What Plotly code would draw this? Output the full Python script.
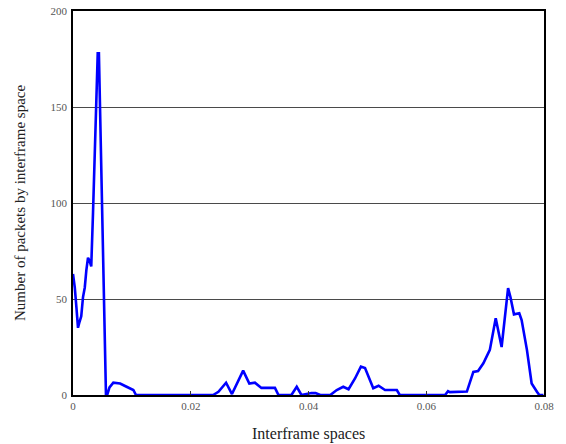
import plotly.graph_objects as go

# Interframe space histogram (bin position, packet count)
spacing = [
    0.0000, 0.0003, 0.00057, 0.00085, 0.0011, 0.0014, 0.0017, 0.0020, 0.00227,
    0.00255, 0.0028, 0.0031, 0.0034, 0.0037, 0.0040, 0.0042, 0.0044, 0.0046,
    0.0047, 0.0050, 0.0051, 0.0054, 0.0056, 0.0058, 0.0062, 0.00685, 0.0080,
    0.0091, 0.01025, 0.0107, 0.0238, 0.0247, 0.0260, 0.0270, 0.0289, 0.02995,
    0.0309, 0.0320, 0.0343, 0.0349, 0.0371, 0.0380, 0.0388, 0.0405, 0.0412,
    0.0420, 0.0437, 0.0448, 0.0459, 0.0468, 0.0479, 0.0489, 0.0496, 0.0510,
    0.0519, 0.0530, 0.0550, 0.0555, 0.0632, 0.0637, 0.0640, 0.0669, 0.0680,
    0.0688, 0.0697, 0.0708, 0.0718, 0.0728, 0.0732, 0.0739, 0.0743, 0.0749,
    0.0758, 0.0762, 0.0771, 0.0779, 0.0788, 0.0792, 0.0799,
]
packets = [
    63, 56, 46, 35, 38, 41, 51, 56, 65,
    71.5, 70, 67, 95, 122, 150, 178, 178, 150,
    142, 100, 71, 35, 0, 0, 4, 6.4, 6,
    4.3, 2.6, 0, 0, 1.7, 6.4, 0.5, 12.7, 6,
    6.4, 3.7, 3.7, 0, 0, 4.3, 0, 1, 1,
    0, 0, 2.6, 4.3, 3, 8.6, 14.8, 14, 3.5,
    4.8, 2.6, 2.6, 0, 0, 2, 1.5, 1.8, 12,
    12.5, 16.5, 23.5, 40, 25, 37, 55.7, 51, 42,
    42.6, 39, 23.5, 6, 1.7, 0, 0,
]

x_ticks = [0, 0.02, 0.04, 0.06, 0.08]
x_tick_text = ["0", "0.02", "0.04", "0.06", "0.08"]
y_ticks = [0, 50, 100, 150, 200]

x_title = "Interframe spaces"
y_title = "Number of packets by interframe space"

serif = "Liberation Serif, Times New Roman, serif"

fig = go.Figure(
    go.Scatter(
        x=spacing,
        y=packets,
        mode="lines",
        line=dict(color="#0000ff", width=2.6),
        hoverinfo="x+y",
    )
)

fig.update_layout(
    width=566,
    height=444,
    margin=dict(l=73, r=22, t=11, b=49),
    paper_bgcolor="white",
    plot_bgcolor="white",
    showlegend=False,
    font=dict(family=serif, color="#555555", size=11),
    annotations=[
        dict(text=x_title, xref="paper", yref="paper", x=0.5, y=0,
             xanchor="center", yanchor="top", yshift=-28, showarrow=False,
             font=dict(family=serif, size=16, color="#222222")),
        dict(text=y_title, xref="paper", yref="paper", x=0, y=0.5,
             xanchor="center", yanchor="middle", xshift=-53, textangle=-90,
             showarrow=False,
             font=dict(family=serif, size=15, color="#222222")),
    ],
)

fig.update_xaxes(
    range=[0, 0.08],
    tickvals=x_ticks,
    ticktext=x_tick_text,
    ticks="inside",
    ticklen=4,
    tickcolor="#333333",
    showgrid=False,
    zeroline=False,
    showline=True,
    linecolor="#000000",
    linewidth=1.5,
    mirror=True,
    automargin=False,
    tickfont=dict(family=serif, size=11, color="#555555"),
)

fig.update_yaxes(
    range=[0, 200],
    tickvals=y_ticks,
    ticks="",
    showgrid=True,
    gridcolor="#4a4a4a",
    gridwidth=1.2,
    zeroline=False,
    showline=True,
    linecolor="#000000",
    linewidth=1.5,
    mirror=True,
    automargin=False,
    ticklabelstandoff=2,
    tickfont=dict(family=serif, size=11, color="#555555"),
)

fig.write_html("out.html")
